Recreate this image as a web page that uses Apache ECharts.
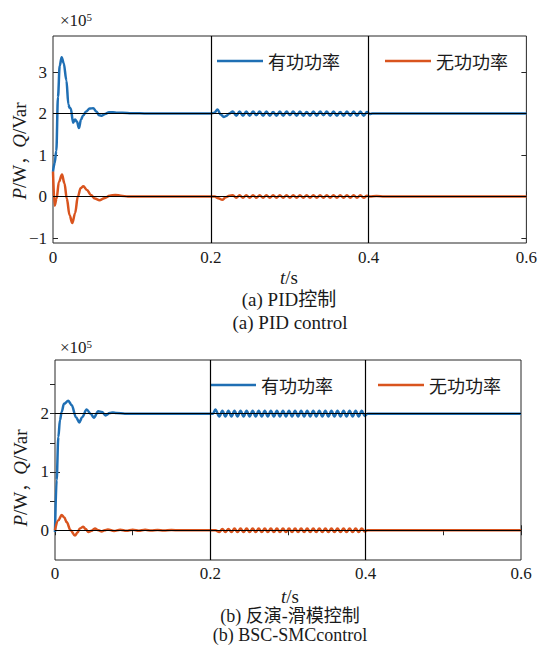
<!DOCTYPE html>
<html>
<head>
<meta charset="utf-8">
<script src="https://cdn.jsdelivr.net/npm/echarts@6/dist/echarts.min.js"></script>
<style>
html,body{margin:0;padding:0;background:#fff;}
#c{width:540px;height:647px;}
</style>
</head>
<body>
<div id="c"></div>
<script>
// ---------- data (×10^5) ----------
var seriesNames = ['有功功率', '无功功率'];
var xTickLabels = [0, 0.2, 0.4, 0.6];
var pidYTicks = [-1, 0, 1, 2, 3];
var smcYLabels = [0, 1, 2];
var smcYTicksRight = [0.5, 1, 1.5, 2, 2.5];
var refLevels = [0, 2];
var refTimes = [0.2, 0.4];

// (a) PID control – active power P
var pidActive = [
  [0,0.6],[0.002,0.8],[0.0042,1.1],[0.0063,2.4],[0.0085,3.15],[0.011,3.36],[0.0135,3.22],[0.017,2.8],
  [0.0195,2.22],[0.021,2.14],[0.0225,2.12],[0.0255,1.78],[0.028,1.86],[0.0305,1.8],[0.0328,1.65],
  [0.0355,1.85],[0.038,1.95],[0.042,2.05],[0.0465,2.12],[0.051,2.13],[0.055,2.05],[0.0585,1.96],
  [0.062,1.95],[0.066,1.99],[0.071,2.03],[0.076,2.03],[0.081,2.02],[0.088,2.02],[0.1,2.01],[0.12,2.0],
  [0.15,2.0],[0.19,2.0],[0.2,2.0],
  [0.2045,2.02],[0.2085,2.1],[0.2125,1.98],[0.2165,1.92],[0.2195,1.94],[0.2235,2.0],[0.228,2.05],
  [0.2323,1.95],[0.2365,2.05],[0.2408,1.95],[0.245,2.05],[0.2493,1.95],[0.2535,2.05],[0.2578,1.96],
  [0.262,2.05],[0.2663,1.95],[0.2705,2.05],[0.2748,1.95],[0.279,2.04],[0.2833,1.95],[0.2875,2.05],
  [0.2918,1.95],[0.296,2.05],[0.3003,1.96],[0.3045,2.05],[0.3088,1.95],[0.313,2.05],[0.3173,1.95],
  [0.3215,2.04],[0.3258,1.95],[0.33,2.05],[0.3343,1.95],[0.3385,2.05],[0.3428,1.96],[0.347,2.05],
  [0.3513,1.95],[0.3555,2.05],[0.3598,1.95],[0.364,2.04],[0.3683,1.95],[0.3725,2.05],[0.3768,1.95],
  [0.381,2.05],[0.3853,1.95],[0.3895,2.05],[0.3938,1.95],[0.398,2.04],[0.4015,1.99],[0.405,2.0],
  [0.42,2.0],[0.6,2.0]
];
// (a) PID control – reactive power Q
var pidReactive = [
  [0,0.6],[0.0021,-0.22],[0.0045,-0.05],[0.0075,0.35],[0.0114,0.53],[0.0145,0.32],[0.0175,-0.05],
  [0.021,-0.45],[0.0245,-0.64],[0.028,-0.4],[0.0315,0.0],[0.035,0.2],[0.0385,0.25],[0.043,0.16],
  [0.048,0.04],[0.053,-0.05],[0.059,-0.09],[0.065,-0.04],[0.072,0.02],[0.079,0.04],[0.086,0.02],
  [0.095,0.0],[0.12,0.0],[0.19,0.0],[0.2,0.0],
  [0.205,0.0],[0.2095,-0.04],[0.2145,-0.08],[0.219,-0.02],[0.2235,0.02],[0.228,0.03],[0.2323,-0.03],
  [0.2365,0.03],[0.2408,-0.03],[0.245,0.03],[0.2493,-0.03],[0.2535,0.03],[0.2578,-0.03],[0.262,0.03],
  [0.2663,-0.03],[0.2705,0.03],[0.2748,-0.03],[0.279,0.03],[0.2833,-0.03],[0.2875,0.03],[0.2918,-0.03],
  [0.296,0.03],[0.3003,-0.03],[0.3045,0.03],[0.3088,-0.03],[0.313,0.03],[0.3173,-0.03],[0.3215,0.03],
  [0.3258,-0.03],[0.33,0.03],[0.3343,-0.03],[0.3385,0.03],[0.3428,-0.03],[0.347,0.03],[0.3513,-0.03],
  [0.3555,0.03],[0.3598,-0.03],[0.364,0.03],[0.3683,-0.03],[0.3725,0.03],[0.3768,-0.03],[0.381,0.03],
  [0.3853,-0.03],[0.3895,0.03],[0.3938,-0.03],[0.398,0.02],[0.4015,0.0],[0.41,0.01],[0.42,0.0],[0.6,0.0]
];
// (b) BSC-SMC control – active power P
var smcActive = [
  [0,-0.03],[0.0021,0.86],[0.0043,1.6],[0.0064,1.89],[0.0086,2.03],[0.0116,2.17],[0.0171,2.22],
  [0.0214,2.15],[0.027,1.94],[0.0313,1.85],[0.035,1.94],[0.0407,2.07],[0.0459,2.0],[0.05,1.93],
  [0.0557,2.04],[0.0605,2.03],[0.065,1.97],[0.0705,2.01],[0.0745,2.02],[0.079,2.01],[0.09,2.0],
  [0.19,2.0],[0.2,2.0],
  [0.2035,2.0],[0.2064,2.07],[0.2116,1.95],[0.2155,2.05],[0.2194,1.95],[0.2233,2.05],[0.2272,1.95],
  [0.2311,2.05],[0.235,1.95],[0.2389,2.05],[0.2428,1.95],[0.2467,2.05],[0.2506,1.95],[0.2545,2.05],
  [0.2584,1.95],[0.2623,2.05],[0.2662,1.95],[0.2701,2.05],[0.274,1.95],[0.2779,2.05],[0.2818,1.95],
  [0.2857,2.05],[0.2896,1.95],[0.2935,2.05],[0.2974,1.95],[0.3013,2.05],[0.3052,1.95],[0.3091,2.05],
  [0.313,1.95],[0.3169,2.05],[0.3208,1.95],[0.3247,2.05],[0.3286,1.95],[0.3325,2.05],[0.3364,1.95],
  [0.3403,2.05],[0.3442,1.95],[0.3481,2.05],[0.352,1.95],[0.3559,2.05],[0.3598,1.95],[0.3637,2.05],
  [0.3676,1.95],[0.3715,2.05],[0.3754,1.95],[0.3793,2.05],[0.3832,1.95],[0.3871,2.05],[0.391,1.95],
  [0.3949,2.05],[0.3988,1.96],[0.4025,2.0],[0.41,2.0],[0.6,2.0]
];
// (b) BSC-SMC control – reactive power Q
var smcReactive = [
  [0,0.0],[0.0043,0.17],[0.0086,0.26],[0.012,0.22],[0.015,0.14],[0.02,0.0],[0.0257,-0.09],[0.029,-0.04],
  [0.032,0.03],[0.0364,0.06],[0.0395,0.02],[0.043,-0.03],[0.047,-0.01],[0.0514,0.03],[0.056,0.0],
  [0.06,-0.02],[0.064,0.0],[0.068,0.015],[0.076,-0.012],[0.084,0.01],[0.092,-0.01],[0.1,0.01],
  [0.108,-0.008],[0.116,0.008],[0.124,-0.006],[0.132,0.006],[0.14,-0.005],[0.15,0.004],[0.16,0.0],
  [0.19,0.0],[0.2,0.0],
  [0.2064,0.0],[0.2116,-0.03],[0.2155,0.02],[0.2194,-0.03],[0.2233,0.02],[0.2272,-0.03],[0.2311,0.03],
  [0.235,-0.03],[0.2389,0.03],[0.2428,-0.03],[0.2467,0.03],[0.2506,-0.03],[0.2545,0.03],[0.2584,-0.03],
  [0.2623,0.03],[0.2662,-0.03],[0.2701,0.03],[0.274,-0.03],[0.2779,0.03],[0.2818,-0.03],[0.2857,0.03],
  [0.2896,-0.03],[0.2935,0.03],[0.2974,-0.03],[0.3013,0.03],[0.3052,-0.03],[0.3091,0.03],[0.313,-0.03],
  [0.3169,0.03],[0.3208,-0.03],[0.3247,0.03],[0.3286,-0.03],[0.3325,0.03],[0.3364,-0.03],[0.3403,0.03],
  [0.3442,-0.03],[0.3481,0.03],[0.352,-0.03],[0.3559,0.03],[0.3598,-0.03],[0.3637,0.03],[0.3676,-0.03],
  [0.3715,0.03],[0.3754,-0.03],[0.3793,0.03],[0.3832,-0.03],[0.3871,0.03],[0.391,-0.03],[0.3949,0.03],
  [0.3988,-0.02],[0.4025,0.0],[0.41,0.0],[0.6,0.0]
];

// ---------- styling ----------
var SERIF = 'Liberation Serif, Noto Sans CJK SC, serif';
var CJK = 'Noto Sans CJK SC, sans-serif';
var TXT = '#1a1a1a';
var FRAME = '#262626';
var BLUE = '#1f6fb4';
var ORANGE = '#d9541e';

var chart = echarts.init(document.getElementById('c'), null, {renderer: 'svg'});

function xAxisBottom(gi) {
  return {
    type: 'value', gridIndex: gi, position: 'bottom', min: 0, max: 0.6,
    axisLine: {show: false}, splitLine: {show: false},
    axisTick: {show: true, inside: true, length: 5, customValues: xTickLabels, lineStyle: {color: FRAME}},
    axisLabel: {customValues: xTickLabels, margin: gi === 0 ? 6 : 5, color: TXT, fontFamily: SERIF, fontSize: 17,
      formatter: function (v) { return String(v); }}
  };
}

function lineSeries(name, data, xi, yi, color) {
  return {
    name: name, type: 'line', data: data, xAxisIndex: xi, yAxisIndex: yi,
    showSymbol: false, symbol: 'none', smooth: 0.35, smoothMonotone: 'x',
    color: color, lineStyle: {width: 2.5, color: color}, z: 2, animation: false
  };
}

function refSeries(xi, yi) {
  var d = [];
  refLevels.forEach(function (v) { d.push({yAxis: v}); });
  refTimes.forEach(function (v) { d.push({xAxis: v}); });
  return {
    name: 'ref' + xi, type: 'line', data: [], xAxisIndex: xi, yAxisIndex: yi, z: 5,
    markLine: {silent: true, symbol: ['none', 'none'], animation: false,
      label: {show: false}, lineStyle: {color: '#000', width: 1.2, type: 'solid'}, data: d}
  };
}

var richY = {
  i: {fontFamily: SERIF, fontStyle: 'italic', fontSize: 19, fill: TXT, color: TXT},
  n: {fontFamily: SERIF, fontSize: 19, fill: TXT, color: TXT},
  c: {fontFamily: CJK, fontSize: 17, fill: TXT, color: TXT}
};
var richT = {
  i: {fontFamily: SERIF, fontStyle: 'italic', fontSize: 19, fill: TXT, color: TXT},
  n: {fontFamily: SERIF, fontSize: 19, fill: TXT, color: TXT}
};
var richE = {
  n: {fontFamily: SERIF, fontSize: 17, fill: TXT, color: TXT},
  s: {fontFamily: SERIF, fontSize: 11, fill: TXT, color: TXT, verticalAlign: 'top', padding: [0, 0, 6, 0]}
};

function gtext(x, y, text, rich, extra) {
  var o = {
    type: 'text', x: x, y: y, silent: true,
    style: {text: text, rich: rich, fill: TXT, align: 'center', verticalAlign: 'middle',
      textAlign: 'center', textVerticalAlign: 'middle'}
  };
  if (extra) { for (var k in extra) o[k] = extra[k]; }
  return o;
}
function ptext(x, y, text, size) {
  return {
    type: 'text', x: x, y: y, silent: true,
    style: {text: text, fill: TXT, fontFamily: SERIF, fontSize: size, align: 'center', verticalAlign: 'middle',
      textAlign: 'center', textVerticalAlign: 'middle'}
  };
}

var option = {
  backgroundColor: '#fff',
  animation: false,
  grid: [
    {left: 53, top: 36, right: 12, height: 207, show: true, borderColor: FRAME, borderWidth: 1, backgroundColor: 'transparent'},
    {left: 55, top: 360, right: 19, height: 200, show: true, borderColor: FRAME, borderWidth: 1, backgroundColor: 'transparent'}
  ],
  legend: [
    {data: seriesNames, left: 217, top: 52, padding: 0, itemGap: 45, icon: 'rect', itemWidth: 46, itemHeight: 2.5,
      textStyle: {fontFamily: CJK, fontSize: 18, color: TXT}, selectedMode: false},
    {data: seriesNames, left: 210, top: 376, padding: 0, itemGap: 45, icon: 'rect', itemWidth: 46, itemHeight: 2.5,
      textStyle: {fontFamily: CJK, fontSize: 18, color: TXT}, selectedMode: false}
  ],
  xAxis: [
    xAxisBottom(0),
    xAxisBottom(1),
    {type: 'value', gridIndex: 1, position: 'top', min: 0, max: 0.6, interval: 0.1,
      axisLine: {show: false}, splitLine: {show: false}, axisLabel: {show: false},
      axisTick: {show: true, inside: true, length: 5, lineStyle: {color: FRAME}}}
  ],
  yAxis: [
    {type: 'value', gridIndex: 0, position: 'left', min: -1.12, max: 3.87,
      axisLine: {show: false}, splitLine: {show: false},
      axisTick: {show: true, inside: true, length: 5, customValues: pidYTicks, lineStyle: {color: FRAME}},
      axisLabel: {customValues: pidYTicks, margin: 6, color: TXT, fontFamily: SERIF, fontSize: 17,
        formatter: function (v) { return v < 0 ? '\u2212' + Math.abs(v) : String(v); }}},
    {type: 'value', gridIndex: 0, position: 'right', min: -1.12, max: 3.87,
      axisLine: {show: false}, splitLine: {show: false}, axisLabel: {show: false},
      axisTick: {show: true, inside: true, length: 5, customValues: pidYTicks, lineStyle: {color: FRAME}}},
    {type: 'value', gridIndex: 1, position: 'left', min: -0.51, max: 2.92,
      axisLine: {show: false}, splitLine: {show: false},
      axisTick: {show: true, inside: true, length: 5, customValues: smcYLabels, lineStyle: {color: FRAME}},
      axisLabel: {customValues: smcYLabels, margin: 6, color: TXT, fontFamily: SERIF, fontSize: 17}},
    {type: 'value', gridIndex: 1, position: 'right', min: -0.51, max: 2.92,
      axisLine: {show: false}, splitLine: {show: false}, axisLabel: {show: false},
      axisTick: {show: true, inside: true, length: 5, customValues: smcYTicksRight, lineStyle: {color: FRAME}}}
  ],
  series: [
    lineSeries(seriesNames[0], pidActive, 0, 0, BLUE),
    lineSeries(seriesNames[1], pidReactive, 0, 0, ORANGE),
    refSeries(0, 0),
    lineSeries(seriesNames[0], smcActive, 1, 2, BLUE),
    lineSeries(seriesNames[1], smcReactive, 1, 2, ORANGE),
    refSeries(1, 2)
  ],
  graphic: [
    {type: 'text', x: 60, y: 20, silent: true,
      style: {text: '{n|\u00d710}{s|5}', rich: richE, fill: TXT, align: 'left', verticalAlign: 'middle', textAlign: 'left', textVerticalAlign: 'middle'}},
    {type: 'text', x: 60, y: 347, silent: true,
      style: {text: '{n|\u00d710}{s|5}', rich: richE, fill: TXT, align: 'left', verticalAlign: 'middle', textAlign: 'left', textVerticalAlign: 'middle'}},
    gtext(19, 151, '{i|P}{n|/W}{c|，}{i|Q}{n|/Var}', richY, {rotation: Math.PI / 2}),
    gtext(20, 478, '{i|P}{n|/W}{c|，}{i|Q}{n|/Var}', richY, {rotation: Math.PI / 2}),
    gtext(289, 277, '{i|t}{n|/s}', richT),
    gtext(290, 596, '{i|t}{n|/s}', richT),
    ptext(289, 299, '(a) PID控制', 19),
    ptext(290, 322, '(a) PID control', 19),
    ptext(290, 616, '(b) 反演-滑模控制', 18),
    ptext(290, 635, '(b) BSC-SMCcontrol', 18)
  ]
};
chart.setOption(option);
</script>
</body>
</html>
